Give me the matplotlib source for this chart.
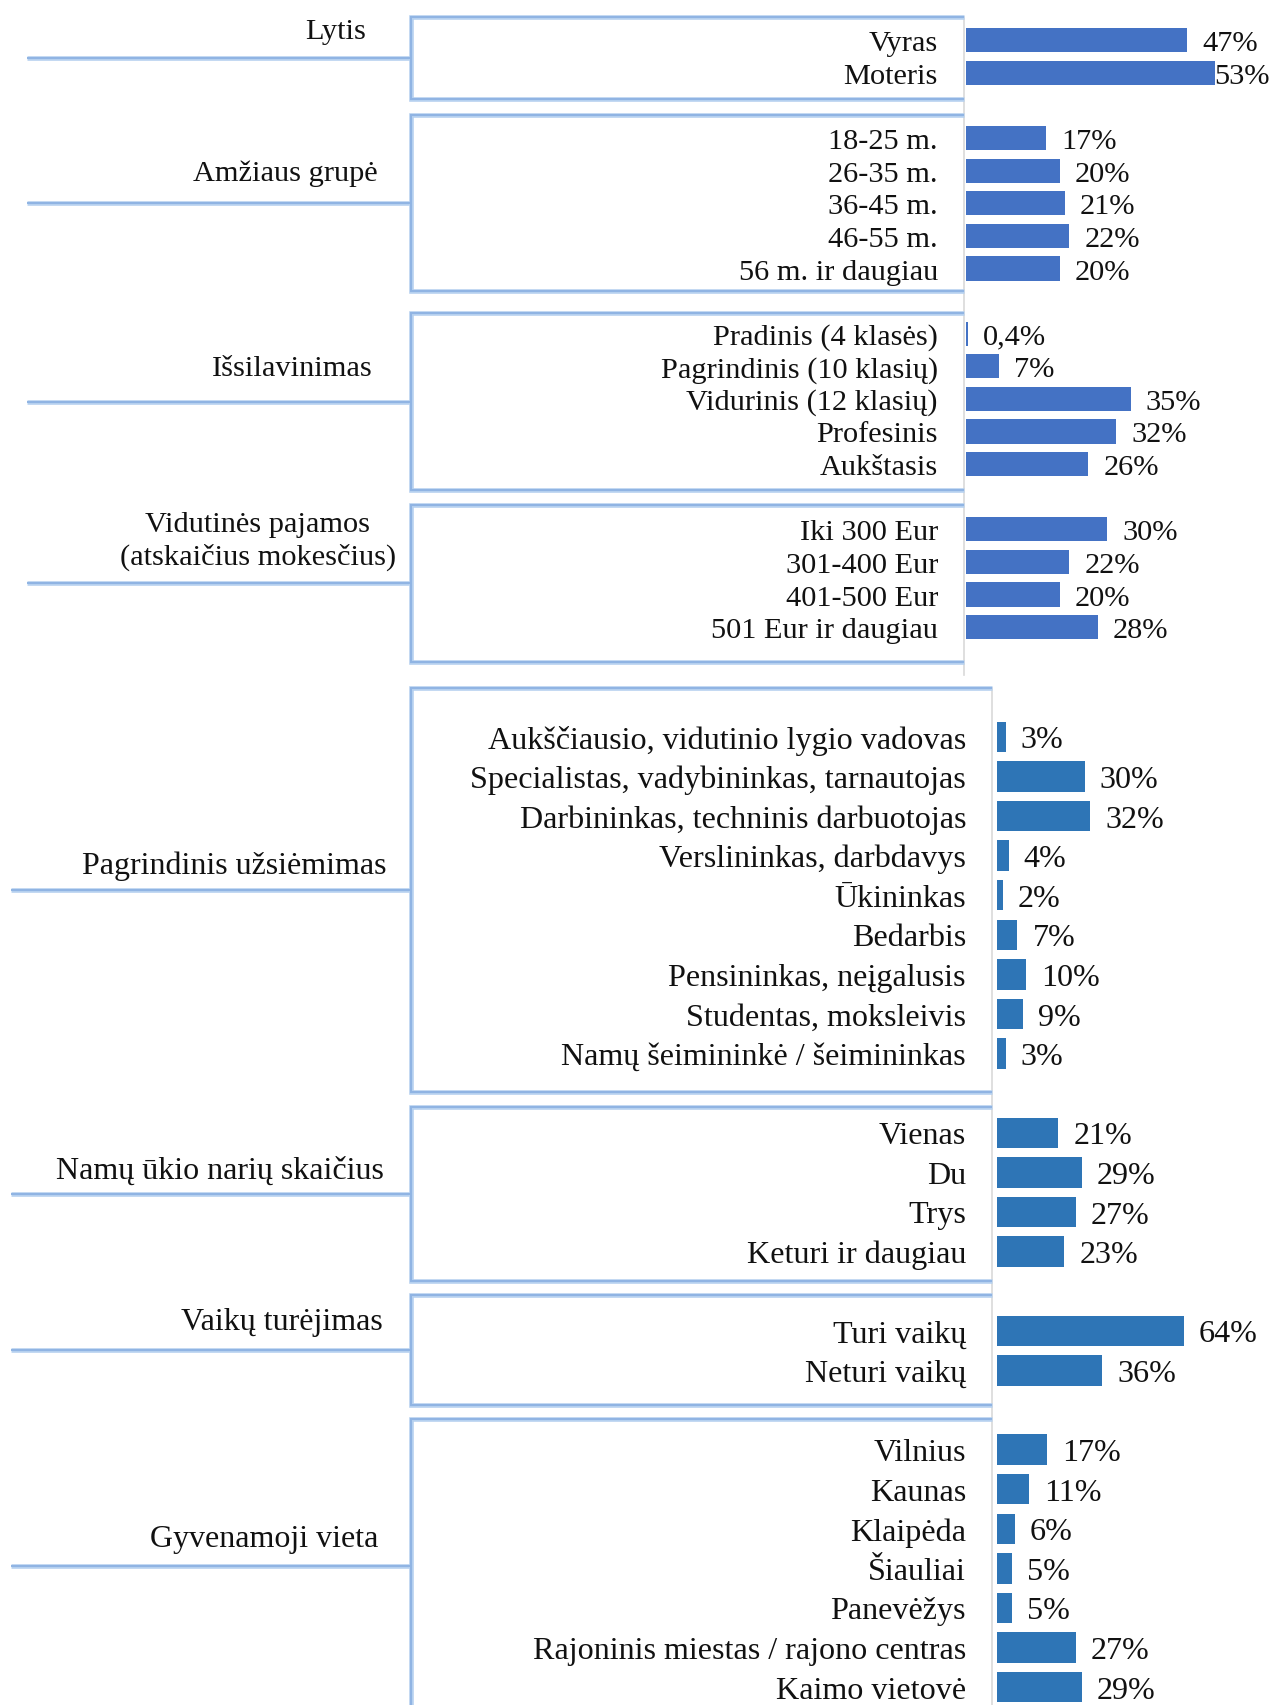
import matplotlib
matplotlib.use("Agg")
import matplotlib.pyplot as plt
from matplotlib.transforms import blended_transform_factory

plt.rcParams['font.family'] = ['Liberation Serif', 'DejaVu Serif']

W, H = 1272, 1706

# ---------------- data ----------------
top_groups = ["Lytis", "Amžiaus grupė", "Išsilavinimas",
              "Vidutinės pajamos\n(atskaičius mokesčius)"]
top_categories = [
    ["Vyras", "Moteris"],
    ["18-25 m.", "26-35 m.", "36-45 m.", "46-55 m.", "56 m. ir daugiau"],
    ["Pradinis (4 klasės)", "Pagrindinis (10 klasių)", "Vidurinis (12 klasių)",
     "Profesinis", "Aukštasis"],
    ["Iki 300 Eur", "301-400 Eur", "401-500 Eur", "501 Eur ir daugiau"],
]
top_values = [
    [47, 53],
    [17, 20, 21, 22, 20],
    [0.4, 7, 35, 32, 26],
    [30, 22, 20, 28],
]

bottom_groups = ["Pagrindinis užsiėmimas", "Namų ūkio narių skaičius",
                 "Vaikų turėjimas", "Gyvenamoji vieta"]
bottom_categories = [
    ["Aukščiausio, vidutinio lygio vadovas", "Specialistas, vadybininkas, tarnautojas",
     "Darbininkas, techninis darbuotojas", "Verslininkas, darbdavys", "Ūkininkas",
     "Bedarbis", "Pensininkas, neįgalusis", "Studentas, moksleivis",
     "Namų šeimininkė / šeimininkas"],
    ["Vienas", "Du", "Trys", "Keturi ir daugiau"],
    ["Turi vaikų", "Neturi vaikų"],
    ["Vilnius", "Kaunas", "Klaipėda", "Šiauliai", "Panevėžys",
     "Rajoninis miestas / rajono centras", "Kaimo vietovė"],
]
bottom_values = [
    [3, 30, 32, 4, 2, 7, 10, 9, 3],
    [21, 29, 27, 23],
    [64, 36],
    [17, 11, 6, 5, 5, 27, 29],
]

# ---------------- styles (pixel layout) ----------------
top_style = dict(
    px_top=0, px_bot=680, row0=41.3, pitch=32.6,
    origin=966, scale=4.70, bar_h=0.74, color="#4472C4",
    label_right=938, fs=21.9, gfs=21.9, off=15, text_dy=-3,
    line_left=27, box_left=411, box_right=964,
    pad_top=[-0.73, -0.70, -0.62, -0.75], pad_bot=[0.80, 0.68, 0.79, 1.06],
    glabel_right=[366, 378, 373, 396], glabel_up=[27, 30, 34, 43],
    gray_extra=0.4,
)
bottom_style = dict(
    px_top=680, px_bot=1706, row0=737.8, pitch=39.6,
    origin=997, scale=2.92, bar_h=0.77, color="#2E75B6",
    label_right=966, fs=23.1, gfs=23.0, off=15, text_dy=-3,
    line_left=11, box_left=411, box_right=992,
    pad_top=[-1.24, -0.66, -0.91, -0.77], pad_bot=[0.96, 0.74, 0.87, 0.65],
    glabel_right=[386, 384, 383, 378], glabel_up=[24, 24, 28, 28],
    gray_extra=1.5,
)

BLUE_OUT = "#B5D0EF"
BLUE_IN = "#8FB4E3"
GRAY = "#D9D9D9"
TEXT = "#111111"


def fmt(v):
    if float(v).is_integer():
        return f"{int(v)}%"
    return f"{v:.1f}".replace(".", ",") + "%"


fig = plt.figure(figsize=(W / 100, H / 100), dpi=100)
fig.patch.set_facecolor("white")


def blue_line(ax, xs, ys, tr):
    ax.plot(xs, ys, color=BLUE_OUT, lw=3.3, transform=tr, clip_on=False,
            solid_capstyle="butt", solid_joinstyle="miter", zorder=3)
    ax.plot(xs, ys, color=BLUE_IN, lw=1.4, transform=tr, clip_on=False,
            solid_capstyle="butt", solid_joinstyle="miter", zorder=4)


def draw_section(groups, cats, vals, s):
    y0 = 1 - s["px_bot"] / H
    h = (s["px_bot"] - s["px_top"]) / H
    x0 = s["origin"] / W
    ax = fig.add_axes([x0, y0, 1 - x0, h])
    ax.set_xlim(0, (W - s["origin"]) / s["scale"])
    ax.set_ylim((s["px_bot"] - s["row0"]) / s["pitch"],
                (s["px_top"] - s["row0"]) / s["pitch"])
    ax.axis("off")
    tr = blended_transform_factory(fig.transFigure, ax.transData)
    fx = lambda px: px / W
    dy = s["text_dy"]

    renderer = fig.canvas.get_renderer()
    row = 0
    first_top = None
    last_bot = None
    for g, (name, c, v) in enumerate(zip(groups, cats, vals)):
        ys = list(range(row, row + len(c)))
        ax.barh(ys, v, height=s["bar_h"], color=s["color"], zorder=2)
        for y, lab, val in zip(ys, c, v):
            ax.annotate(lab, (fx(s["label_right"]), y), xycoords=tr,
                        xytext=(0, dy), textcoords="offset pixels",
                        ha="right", va="center", fontsize=s["fs"], color=TEXT,
                        annotation_clip=False)
            t = ax.annotate(fmt(val), (val, y), xytext=(s["off"], dy),
                            textcoords="offset pixels", ha="left", va="center",
                            fontsize=s["fs"], color=TEXT,
                            annotation_clip=False, zorder=5)
            bb = t.get_window_extent(renderer)
            if bb.x1 > W - 1:
                t.remove()
                ax.annotate(fmt(val), (fx(W - 2), y), xycoords=tr,
                            xytext=(0, dy), textcoords="offset pixels",
                            ha="right", va="center", fontsize=s["fs"],
                            color=TEXT, annotation_clip=False, zorder=5)
        top = ys[0] + s["pad_top"][g]
        bot = ys[-1] + s["pad_bot"][g]
        mid = (top + bot) / 2
        if first_top is None:
            first_top = top
        last_bot = bot
        L, R = fx(s["box_left"]), fx(s["box_right"])
        blue_line(ax, [R, L, L, R], [top, top, bot, bot], tr)
        blue_line(ax, [fx(s["line_left"]), L], [mid, mid], tr)
        ax.annotate(name, (fx(s["glabel_right"][g]), mid), xycoords=tr,
                    xytext=(0, s["glabel_up"][g]), textcoords="offset pixels",
                    ha="right", va="center", multialignment="center",
                    linespacing=1.25, fontsize=s["gfs"], color=TEXT,
                    annotation_clip=False)
        row += len(c) + 1
    ax.plot([fx(s["box_right"])] * 2, [first_top, last_bot + s["gray_extra"]],
            color=GRAY, lw=1.2, transform=tr, clip_on=False, zorder=1)
    return ax


draw_section(top_groups, top_categories, top_values, top_style)
draw_section(bottom_groups, bottom_categories, bottom_values, bottom_style)

fig.savefig("out.png", dpi=100, facecolor="white")
